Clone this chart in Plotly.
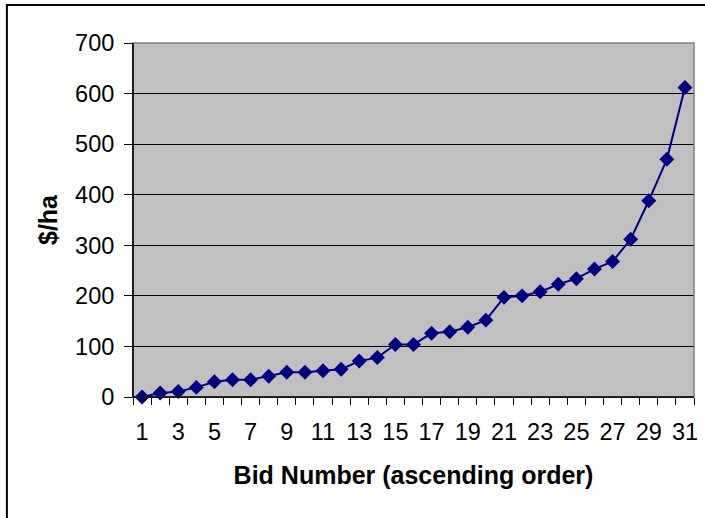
import plotly.graph_objects as go

# Bids sorted in ascending order, $/ha
bid_number = list(range(1, 32))
price_per_ha = [0, 8, 11, 19, 30, 34, 34, 41, 49, 49, 52, 55, 71, 78, 104, 104,
                126, 129, 138, 152, 197, 200, 208, 223, 234, 253, 268, 312, 388, 470, 612]
x_tick_labels = [str(n) for n in range(1, 32, 2)]
y_ticks = list(range(0, 701, 100))

W, H = 705, 518
L, R, T, B = 133, 7, 43, 121
pw, ph = W - L - R, H - T - B

def px_x(p):
    return (p - L) / pw

def px_y(p):
    return (H - B - p) / ph

font_family = "Liberation Sans, Arial, sans-serif"

fig = go.Figure()
fig.add_trace(go.Scatter(
    x=bid_number, y=price_per_ha, mode="lines+markers",
    line=dict(color="#000080", width=2),
    marker=dict(symbol="diamond", size=11.5, color="#000080",
                line=dict(width=0)),
    cliponaxis=False, showlegend=False,
))

fig.update_layout(
    width=W, height=H,
    margin=dict(l=L, r=R, t=T, b=B, pad=0),
    paper_bgcolor="white", plot_bgcolor="#C0C0C0",
    font=dict(family=font_family, size=23.5, color="black"),
    xaxis=dict(
        range=[0.5, 31.5], tickmode="array",
        tickvals=list(range(1, 32, 2)), ticktext=x_tick_labels,
        ticks="", showgrid=False, zeroline=False,
        showline=True, linecolor="black", linewidth=1,
        ticklabelstandoff=14,
        minor=dict(tickmode="array", tickvals=[i + 0.5 for i in range(0, 32)],
                   ticks="outside", ticklen=7, tickcolor="black", tickwidth=1,
                   showgrid=False),
        title=dict(text="<b>Bid Number (ascending order)</b>",
                   font=dict(size=25), standoff=22),
        fixedrange=True,
    ),
    yaxis=dict(
        range=[0, 700], tickmode="array", tickvals=y_ticks,
        ticks="outside", ticklen=8, tickcolor="black", tickwidth=1,
        ticklabelstandoff=5,
        showgrid=True, gridcolor="black", gridwidth=1, zeroline=False,
        showline=True, linecolor="black", linewidth=1,
        title=dict(text="<b>$/ha</b>", font=dict(size=25), standoff=10),
        fixedrange=True,
    ),
    shapes=[
        # plot-area frame
        dict(type="rect", xref="paper", yref="paper", x0=0, y0=0, x1=1, y1=1,
             line=dict(color="#808080", width=1.5), layer="above"),
        # chart border
        dict(type="rect", xref="paper", yref="paper",
             x0=px_x(6), y0=px_y(530), x1=px_x(715), y1=px_y(5),
             line=dict(color="black", width=2), layer="above"),
    ],
)

# redraw the axis lines on top of the frame
fig.add_shape(type="line", xref="paper", yref="paper", x0=0, y0=0, x1=1, y1=0,
              line=dict(color="black", width=1.5), layer="above")
fig.add_shape(type="line", xref="paper", yref="paper", x0=0, y0=0, x1=0, y1=1,
              line=dict(color="black", width=1.5), layer="above")

fig.write_html("out.html")
